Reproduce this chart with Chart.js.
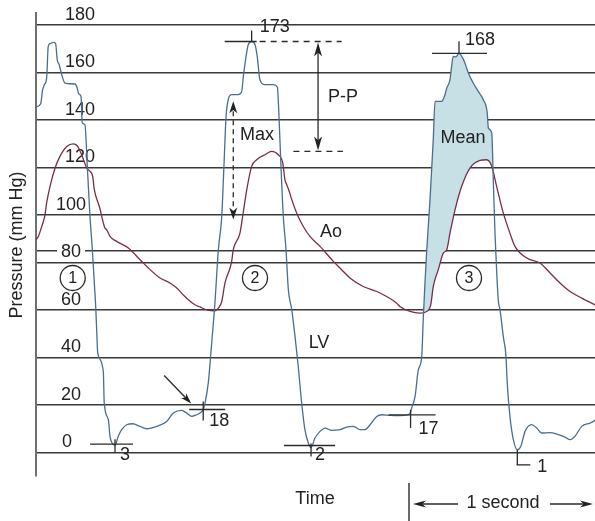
<!DOCTYPE html>
<html>
<head>
<meta charset="utf-8">
<script src="https://cdn.jsdelivr.net/npm/chart.js@4/dist/chart.umd.min.js"></script>
<style>
  html, body { margin: 0; padding: 0; background: #fff; }
  #wrap { width: 595px; height: 521px; }
</style>
</head>
<body>
<div id="wrap"><canvas id="c" width="595" height="521"></canvas></div>
<script>
// Left ventricular (LV) pressure, mm Hg, against time in seconds
const lvTime = [0, 0.026, 0.037, 0.046, 0.059, 0.068, 0.078, 0.096, 0.109, 0.118, 0.129, 0.143, 0.161, 0.189, 0.217, 0.229, 0.237, 0.25, 0.257, 0.272,
  0.285, 0.3, 0.313, 0.324, 0.332, 0.337, 0.343, 0.374, 0.379, 0.402, 0.411, 0.421, 0.439, 0.457, 0.476, 0.504, 0.537, 0.578, 0.615, 0.671,
  0.726, 0.763, 0.809, 0.837, 0.865, 0.893, 0.911, 0.929, 0.939, 0.957, 0.976, 0.994, 1.013, 1.032, 1.044, 1.056, 1.068, 1.087, 1.124, 1.143,
  1.152, 1.167, 1.179, 1.198, 1.217, 1.229, 1.244, 1.272, 1.318, 1.341, 1.35, 1.361, 1.374, 1.389, 1.402, 1.421, 1.439, 1.457, 1.476, 1.494,
  1.513, 1.528, 1.55, 1.578, 1.606, 1.643, 1.689, 1.726, 1.763, 1.8, 1.828, 1.856, 1.893, 1.921, 1.967, 2.022, 2.068, 2.081, 2.087, 2.106,
  2.124, 2.143, 2.152, 2.161, 2.171, 2.189, 2.207, 2.217, 2.254, 2.272, 2.282, 2.3, 2.309, 2.318, 2.333, 2.35, 2.371, 2.383, 2.402, 2.429,
  2.457, 2.485, 2.507, 2.513, 2.532, 2.541, 2.55, 2.554, 2.568, 2.578, 2.596, 2.611, 2.618, 2.633, 2.652, 2.674, 2.693, 2.717, 2.754, 2.782,
  2.809, 2.856, 2.902, 2.939, 2.967, 2.994, 3.032, 3.078, 3.106];
const lvPressure = [145.4, 146.8, 152.7, 154.8, 157.6, 170.9, 172.1, 172.6, 172.1, 165.3, 163.2, 159.0, 155.5, 155.2, 155.1, 153.4, 151.0, 149.9, 138.7, 137.9,
  120.4, 99.3, 85.3, 71.3, 60.9, 51.6, 41.8, 34.0, 20.8, 13.7, 6.7, 4.1, 3, 6.7, 9.5, 11.6, 12.0, 10.9, 9.9, 10.9,
  13.0, 16.5, 17.6, 16.5, 15.1, 15.8, 16.5, 18, 20.7, 29.1, 46.0, 62.8, 85.3, 99.3, 120.4, 141.4, 148.5, 150.6, 150.6, 152.0,
  158.3, 166.7, 171.6, 173, 171.6, 166.7, 156.9, 154.8, 154.8, 153.8, 141.4, 120.4, 99.3, 85.3, 68.4, 60.0, 48.8, 36.1, 20.7, 9.5,
  3.9, 2, 6.0, 8.8, 10.2, 9.2, 9.5, 10.6, 10.9, 9.5, 9.5, 11.6, 15.1, 15.8, 15.5, 15.4, 15.8, 17, 18.6, 23.5,
  34.7, 40.4, 57.2, 71.3, 85.3, 106.4, 131.6, 147.8, 147.8, 150.6, 153.4, 156.9, 162.5, 166.7, 166.5, 168, 166, 163.9, 159.7, 155.5,
  152.0, 148.5, 142.9, 136.6, 134.4, 113.4, 92.3, 85.3, 64.2, 60.0, 48.8, 40.4, 29.1, 15.1, 5.3, 1, 2.4, 8.8, 11.6, 10.2,
  8.1, 8.3, 7.4, 6.4, 5.3, 6.7, 10.9, 12.3, 13.4];

// Aortic (Ao) pressure, mm Hg, against time in seconds
const aoTime = [0, 0.013, 0.032, 0.041, 0.05, 0.059, 0.078, 0.106, 0.133, 0.171, 0.207, 0.229, 0.254, 0.282, 0.3, 0.315, 0.324, 0.352, 0.383, 0.393,
  0.411, 0.448, 0.513, 0.578, 0.624, 0.689, 0.744, 0.782, 0.818, 0.846, 0.883, 0.911, 0.948, 0.994, 1.013, 1.032, 1.05, 1.078, 1.087, 1.096,
  1.133, 1.148, 1.171, 1.198, 1.226, 1.272, 1.309, 1.346, 1.371, 1.383, 1.393, 1.407, 1.421, 1.448, 1.485, 1.522, 1.578, 1.652, 1.698, 1.744,
  1.818, 1.893, 1.948, 2.004, 2.022, 2.078, 2.133, 2.171, 2.193, 2.207, 2.235, 2.263, 2.282, 2.3, 2.328, 2.365, 2.411, 2.467, 2.504, 2.532,
  2.559, 2.596, 2.633, 2.661, 2.726, 2.8, 2.856, 2.911, 2.967, 3.032, 3.106];
const aoPressure = [89.5, 90.9, 95.1, 97.2, 100.0, 105.0, 112.0, 119.7, 124.6, 128.8, 129.9, 129.1, 125.3, 119.7, 118.3, 116.2, 110.6, 103.5, 94.4, 93.7,
  90.9, 88.8, 86.0, 81.1, 77.6, 73.4, 71.3, 69.2, 66.3, 64.2, 62.1, 61.2, 60.0, 59.6, 60.7, 63.5, 71.3, 77.6, 80.4, 85.3,
  92.3, 99.3, 110.6, 120.4, 123.2, 125.3, 126.7, 125.3, 121.8, 114.8, 112.7, 109.8, 106.4, 100.8, 95.1, 90.9, 86.7, 80.4, 76.9, 73.4,
  69.8, 67.7, 65.6, 62.8, 61.4, 59.3, 58.6, 59.3, 62.1, 69.8, 76.9, 83.9, 85.3, 92.3, 102.1, 112.0, 119.7, 122.9, 123.2, 120.4,
  112.0, 100.8, 92.3, 86.7, 81.8, 79.7, 75.5, 71.3, 67.7, 64.9, 62.1];

// Pressure scale labels and an extra guide line just above 80
const yTickLabels = [0, 20, 40, 60, 80, 100, 120, 140, 160, 180];
const guideLevel = 85;

// LV pressures called out on the tracing (min / peak values)
const lvMarkedValues = [3, 18, 173, 2, 17, 168, 1];

// Ejection window of the third beat (shaded "Mean" area between LV and Ao)
const ejectLv = [2.14, 2.56];
const ejectAo = [2.12, 2.58];

const FONT = px => px + 'px "Liberation Sans", Arial, Helvetica, sans-serif';
const INK = '#222';

function pts(times, values, range) {
  const out = [];
  times.forEach((t, i) => {
    if (!range || (t >= range[0] && t <= range[1])) out.push({ x: t, y: values[i] });
  });
  return out;
}

function seg(ctx, x1, y1, x2, y2, dash) {
  ctx.beginPath();
  ctx.setLineDash(dash || []);
  ctx.moveTo(x1, y1);
  ctx.lineTo(x2, y2);
  ctx.stroke();
  ctx.setLineDash([]);
}

// notched arrow head with its tip at (x2, y2)
function head(ctx, x1, y1, x2, y2, len, half) {
  const a = Math.atan2(y2 - y1, x2 - x1);
  const c = Math.cos(a), s = Math.sin(a);
  ctx.beginPath();
  ctx.moveTo(x2, y2);
  ctx.lineTo(x2 - len * c + half * s, y2 - len * s - half * c);
  ctx.lineTo(x2 - len * 0.72 * c, y2 - len * 0.72 * s);
  ctx.lineTo(x2 - len * c - half * s, y2 - len * s + half * c);
  ctx.closePath();
  ctx.fill();
}

const overlay = {
  id: 'overlay',
  beforeDatasetsDraw(chart) {
    const { ctx } = chart;
    const ys = chart.scales.y;
    ctx.save();
    ctx.font = FONT(18);
    ctx.textAlign = 'center';
    ctx.textBaseline = 'middle';
    yTickLabels.forEach(v => {
      const txt = String(v);
      const cx = v >= 120 ? 80 : (v === 0 ? 67 : 71);
      const cy = ys.getPixelForValue(v) - 11;
      const w = ctx.measureText(txt).width;
      ctx.fillStyle = '#fff';
      ctx.fillRect(cx - w / 2 - 4, cy - 7, w + 8, 14);
      ctx.fillStyle = INK;
      ctx.fillText(txt, cx, cy + 1);
    });
    ctx.translate(17, 245);
    ctx.rotate(-Math.PI / 2);
    ctx.fillText('Pressure (mm Hg)', 0, 0);
    ctx.restore();
  },
  afterDatasetsDraw(chart) {
    const { ctx } = chart;
    const xs = chart.scales.x, ys = chart.scales.y;
    const X = t => xs.getPixelForValue(t);
    const Y = v => ys.getPixelForValue(v);
    ctx.save();
    ctx.strokeStyle = '#2a2a2a';
    ctx.fillStyle = INK;
    ctx.lineWidth = 1.3;

    // value call-outs on the LV trace
    const shapes = [
      { kind: 'cross', l: 25, r: 18, hy: -1, up: 6, dn: 7, tx: 5, ty: 10 },
      { kind: 'cross', l: 14, r: 22, hy: 0, up: 8, dn: 11, tx: 6, ty: 12, pointer: true },
      { kind: 'peak', l: 27, r: 5, up: 11, tx: 8, ty: -14, dashTo: 90 },
      { kind: 'cross', l: 27, r: 24, hy: -2, up: 4, dn: 9, tx: 4, ty: 8 },
      { kind: 'cross', l: 22, r: 25, hy: 3, up: 2, dn: 16, tx: 8, ty: 17 },
      { kind: 'peak', l: 27, r: 28, up: 12, tx: 6, ty: -13 },
      { kind: 'ell', dn: 15, r: 13, tx: 20, ty: 17 }
    ];
    ctx.font = FONT(18);
    ctx.textAlign = 'left';
    ctx.textBaseline = 'middle';
    lvMarkedValues.forEach((v, k) => {
      const i = lvPressure.indexOf(v);
      if (i < 0) return;
      const px = X(lvTime[i]), py = Y(v);
      const s = shapes[k];
      if (s.kind === 'cross') {
        seg(ctx, px - s.l, py + s.hy, px + s.r, py + s.hy);
        seg(ctx, px, py - s.up, px, py + s.dn);
        if (s.pointer) {
          seg(ctx, px - 39, py - 34, px - 14, py - 8);
          head(ctx, px - 39, py - 34, px - 12, py - 6, 11, 3.5);
        }
      } else if (s.kind === 'peak') {
        seg(ctx, px - s.l, py, px + s.r, py);
        seg(ctx, px, py - s.up, px, py);
        if (s.dashTo) seg(ctx, px + s.r + 3, py, px + s.dashTo, py, [6, 5]);
      } else {
        seg(ctx, px, py, px, py + s.dn);
        seg(ctx, px - 0.6, py + s.dn, px + s.r, py + s.dn);
      }
      ctx.fillText(String(v), px + s.tx, py + s.ty);
    });

    // pulse pressure: LV peak of beat 2 down to the aortic peak of beat 2
    const lvPeak = 173;
    let aoPeak = -Infinity;
    aoTime.forEach((t, i) => { if (t > 1 && t < 2) aoPeak = Math.max(aoPeak, aoPressure[i]); });
    const ppX = X(1.567);
    const yTop = Y(lvPeak), yBot = Y(aoPeak);
    seg(ctx, ppX, yTop + 10, ppX, yBot - 10);
    head(ctx, ppX, yBot, ppX, yTop + 1, 14, 4);
    head(ctx, ppX, yTop, ppX, yBot - 1, 14, 4);
    seg(ctx, X(1.43), yBot, X(1.705), yBot, [6, 5]);

    // max dP/dt marker on the beat 2 upstroke
    const mX = X(1.096), mTop = Y(147.8), mBot = Y(98);
    seg(ctx, mX, mTop + 10, mX, mBot - 10, [5, 4]);
    head(ctx, mX, mBot, mX, mTop, 12, 4);
    head(ctx, mX, mTop, mX, mBot, 12, 4);

    // text labels
    ctx.textAlign = 'center';
    ctx.font = FONT(18);
    ctx.fillText('P-P', 343, 97);
    ctx.fillText('Max', 257, 135);
    ctx.fillText('Mean', 463, 138);
    ctx.fillText('Ao', 331, 232);
    ctx.fillText('LV', 319, 343);
    ctx.fillText('Time', 315, 499);
    ctx.fillText('1 second', 503, 503);

    // beat numbers
    ctx.font = FONT(16);
    [[72.7, 278, '1'], [255, 278, '2'], [469, 278, '3']].forEach(([cx, cy, n]) => {
      ctx.beginPath();
      ctx.arc(cx, cy, 12.5, 0, Math.PI * 2);
      ctx.stroke();
      ctx.fillText(n, cx, cy + 1);
    });

    // one-second scale bar
    ctx.lineWidth = 1.6;
    ctx.strokeStyle = '#444';
    seg(ctx, 409, 483, 409, 521);
    ctx.strokeStyle = '#2a2a2a';
    ctx.lineWidth = 1.3;
    seg(ctx, 458, 504, 420, 504);
    head(ctx, 458, 504, 413, 504, 13, 3.5);
    seg(ctx, 550, 504, 586, 504);
    head(ctx, 550, 504, 593, 504, 13, 3.5);

    ctx.restore();
  }
};

new Chart(document.getElementById('c'), {
  type: 'line',
  data: {
    datasets: [
      {
        label: 'LV',
        data: pts(lvTime, lvPressure),
        borderColor: '#4a6e8f',
        borderWidth: 1.3,
        pointRadius: 0,
        fill: false,
        cubicInterpolationMode: 'monotone',
        order: 0
      },
      {
        label: 'Ao',
        data: pts(aoTime, aoPressure),
        borderColor: '#7b2c47',
        borderWidth: 1.3,
        pointRadius: 0,
        fill: false,
        cubicInterpolationMode: 'monotone',
        order: 0
      },
      {
        label: 'LV ejection',
        data: pts(lvTime, lvPressure, ejectLv),
        borderColor: 'rgba(0,0,0,0)',
        borderWidth: 1,
        pointRadius: 0,
        fill: { target: 3, above: '#c6e0e6', below: 'rgba(0,0,0,0)' },
        cubicInterpolationMode: 'monotone',
        order: 2
      },
      {
        label: 'Ao ejection',
        data: pts(aoTime, aoPressure, ejectAo),
        borderColor: 'rgba(0,0,0,0)',
        borderWidth: 1,
        pointRadius: 0,
        fill: false,
        cubicInterpolationMode: 'monotone',
        order: 2
      }
    ]
  },
  options: {
    responsive: false,
    animation: false,
    events: [],
    layout: { padding: { left: 36, top: 13, right: 0, bottom: 45 } },
    plugins: { legend: { display: false }, tooltip: { enabled: false } },
    scales: {
      x: { type: 'linear', min: 0, max: 3.1056, display: false },
      y: {
        type: 'linear',
        min: -10,
        max: 185,
        afterBuildTicks: scale => {
          scale.ticks = yTickLabels.concat([guideLevel]).sort((a, b) => a - b).map(v => ({ value: v }));
        },
        ticks: { display: false },
        grid: { color: '#3a3a3a', lineWidth: 1.4, drawTicks: false },
        border: { display: true, color: '#707070', width: 2 }
      }
    }
  },
  plugins: [overlay]
});
</script>
</body>
</html>
